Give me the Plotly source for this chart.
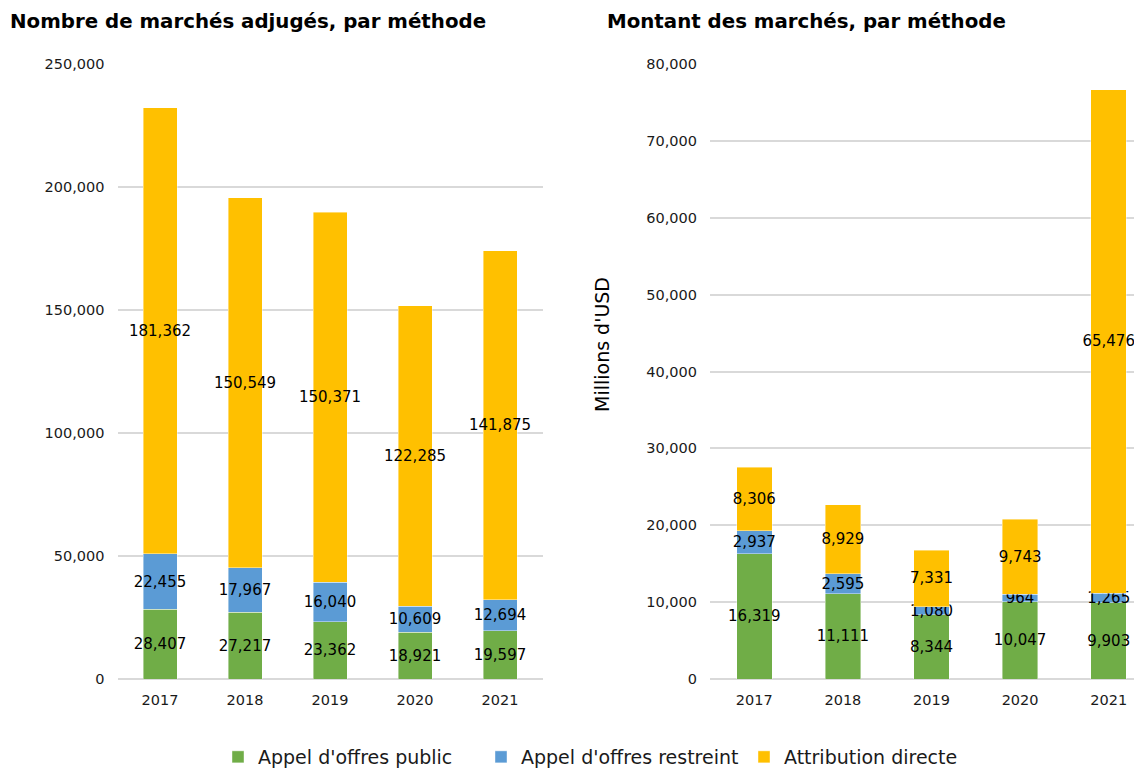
import plotly.graph_objects as go

years = ["2017", "2018", "2019", "2020", "2021"]
series_names = ["Appel d'offres public", "Appel d'offres restreint", "Attribution directe"]
count_public = [28407, 27217, 23362, 18921, 19597]
count_restricted = [22455, 17967, 16040, 10609, 12694]
count_direct = [181362, 150549, 150371, 122285, 141875]
amount_public = [16319, 11111, 8344, 10047, 9903]
amount_restricted = [2937, 2595, 1080, 964, 1265]
amount_direct = [8306, 8929, 7331, 9743, 65476]
left_ticks = [0, 50000, 100000, 150000, 200000, 250000]
right_ticks = [0, 10000, 20000, 30000, 40000, 50000, 60000, 70000, 80000]

colors = ["#70AD47", "#5B9BD5", "#FFC000"]
FONT = "DejaVu Sans"

fig = go.Figure()

def add(vals, name, color, xa, ya, show):
    fig.add_trace(go.Bar(
        x=years, y=vals, name=name, marker_color=color,
        marker_line_color="rgba(255,255,255,0.6)", marker_line_width=0.7,
        text=[f"{v:,}" for v in vals], textposition="inside", textangle=0,
        insidetextanchor="middle", constraintext="none",
        textfont=dict(color="black", size=15, family=FONT),
        xaxis=xa, yaxis=ya, showlegend=show, width=0.4,
        legendgroup=name, cliponaxis=False,
    ))

for vals, name, c in zip([count_public, count_restricted, count_direct], series_names, colors):
    add(vals, name, c, "x", "y", True)
for vals, name, c in zip([amount_public, amount_restricted, amount_direct], series_names, colors):
    add(vals, name, c, "x2", "y2", False)

# page body has an 8px margin: the figure is drawn at (8, 8) in the window
O = 8
W, H = 1142 - O, 771 - O
PH = 615
tickf = dict(size=14.5, family=FONT, color="#1a1a1a")
grid = dict(showgrid=True, gridcolor="#d9d9d9", gridwidth=1.5, zeroline=True,
            zerolinecolor="#d9d9d9", zerolinewidth=1.5, showline=False,
            tickfont=tickf, tickformat=",", ticks="", automargin=False,
            ticklabelstandoff=12)
xcommon = dict(type="category", tickfont=tickf, showgrid=False, ticks="",
               automargin=False, ticklabelstandoff=10)

fig.update_layout(
    width=W, height=H, barmode="stack",
    plot_bgcolor="white", paper_bgcolor="white",
    margin=dict(l=0, r=0, t=64 - O, b=H - (679 - O), autoexpand=False),
    font=dict(family=FONT, color="#1a1a1a"),
    uniformtext=dict(minsize=15, mode="show"),
    xaxis=dict(domain=[(117.5 - O) / W, (542.5 - O) / W], range=[-0.5, 4.5], **xcommon),
    xaxis2=dict(domain=[(710 - O) / W, 1.0], range=[-0.5, -0.5 + 432 / 88.6], anchor="y2", **xcommon),
    yaxis=dict(range=[0, 250000], tickvals=left_ticks, **grid),
    yaxis2=dict(range=[0, 80000], tickvals=right_ticks, anchor="x2", **grid),
    legend=dict(orientation="h", x=(218 - O) / W, xanchor="left", y=-78 / PH, yanchor="middle",
                font=dict(size=19, family=FONT, color="#1a1a1a"), traceorder="normal",
                entrywidth=218, entrywidthmode="pixels", itemwidth=30),
)

title_y = 1 + (64 - 22) / PH
fig.add_annotation(text="<b>Nombre de marchés adjugés, par méthode</b>", xref="paper", yref="paper",
                   x=(8 - O) / W, y=title_y, xanchor="left", yanchor="middle",
                   showarrow=False, font=dict(size=19.8, family=FONT, color="black"))
fig.add_annotation(text="<b>Montant des marchés, par méthode</b>", xref="paper", yref="paper",
                   x=(605 - O) / W, y=title_y, xanchor="left", yanchor="middle",
                   showarrow=False, font=dict(size=19.8, family=FONT, color="black"))
fig.add_annotation(text="Millions d'USD", xref="paper", yref="paper", textangle=-90,
                   x=(602 - O) / W, y=(679 - 345) / PH, xanchor="center", yanchor="middle",
                   showarrow=False, font=dict(size=19, family=FONT, color="black"))

fig.write_html("out.html")
